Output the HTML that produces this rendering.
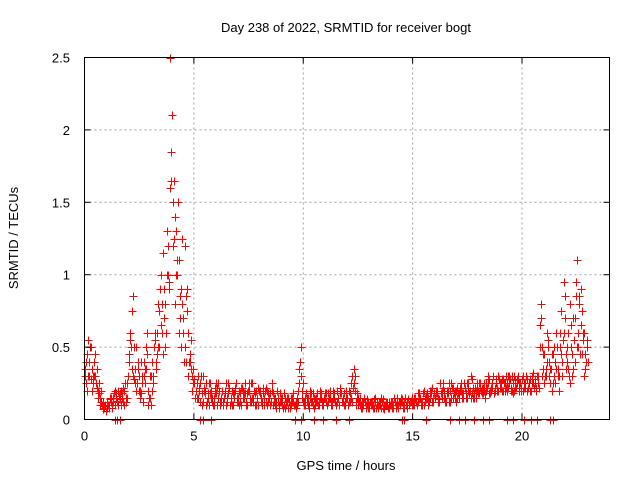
<!DOCTYPE html>
<html><head><meta charset="utf-8"><style>
body{margin:0;background:#fff}
svg text{font-family:"Liberation Sans",sans-serif;font-size:13px;fill:#000}
</style></head><body>
<svg id="chart" width="640" height="480" xmlns="http://www.w3.org/2000/svg">
<rect width="640" height="480" fill="#fff"/>
<g id="grid"></g>
<g id="marks"></g>
<rect x="84.5" y="57.5" width="525" height="362" fill="none" stroke="#000" stroke-width="1"/>
<g id="ticks"></g>
<text x="346" y="32" text-anchor="middle">Day 238 of 2022, SRMTID for receiver bogt</text>
<text x="346" y="470" text-anchor="middle">GPS time / hours</text>
<text x="18" y="238" text-anchor="middle" transform="rotate(-90 18 238)">SRMTID / TECUs</text>
</svg>
<script>
const xTicks=[0,5,10,15,20];
const yTicks=[0,0.5,1,1.5,2,2.5];
const yTickLabels=["0","0.5","1","1.5","2","2.5"];
const seriesA=[0.35,0.45,0.3,0.5,0.25,0.3,0.2,0.15,0.1,0.08,
0.06,0.1,0.12,0.15,0.1,0.13,0.18,0.15,0.2,0.12,
0.3,0.6,0.85,0.35,0.25,0.3,0.18,0.4,0.5,0.2,
0.15,0.4,0.55,0.6,0.75,1.0,0.45,0.8,1.2,2.5,
2.1,1.65,1.3,1.1,0.9,0.6,1.2,0.9,0.45,0.3,
0.28,0.2,0.15,0.25,0.3,0.18,0.12,0.1,0.2,0.15,
0.25,0.15,0.1,0.2,0.18,0.12,0.22,0.15,0.1,0.2,
0.12,0.18,0.22,0.15,0.1,0.2,0.25,0.12,0.18,0.15,
0.2,0.1,0.15,0.22,0.12,0.18,0.1,0.15,0.2,0.08,
0.12,0.18,0.1,0.15,0.08,0.12,0.1,0.15,0.35,0.5,
0.12,0.1,0.15,0.2,0.12,0.08,0.15,0.1,0.18,0.12,
0.15,0.1,0.2,0.12,0.18,0.1,0.15,0.22,0.12,0.1,
0.15,0.2,0.25,0.35,0.12,0.1,0.15,0.08,0.12,0.1,
0.08,0.12,0.1,0.15,0.08,0.1,0.12,0.07,0.1,0.12,
0.1,0.08,0.12,0.15,0.1,0.12,0.08,0.1,0.14,0.12,
0.12,0.15,0.1,0.18,0.12,0.2,0.14,0.1,0.15,0.22,
0.15,0.2,0.12,0.18,0.25,0.15,0.2,0.12,0.22,0.18,
0.2,0.15,0.25,0.18,0.22,0.15,0.2,0.28,0.18,0.15,
0.2,0.25,0.18,0.15,0.22,0.28,0.2,0.18,0.25,0.3,
0.22,0.28,0.2,0.25,0.3,0.22,0.18,0.27,0.3,0.25,
0.28,0.22,0.3,0.25,0.2,0.32,0.25,0.3,0.65,0.5,
0.45,0.3,0.55,0.35,0.25,0.4,0.5,0.3,0.75,0.95,
0.35,0.6,0.25,0.45,0.7,1.1,0.85,0.9,0.55,0.45,
0.4];
const seriesB=[0.25,0.3,0.5,0.2,0.4,0.35,0.25,0.2,0.12,0.1,
0.08,0.15,0.1,0.18,0.15,0.1,0.2,0.12,0.25,0.15,
0.45,0.75,0.5,0.2,0.35,0.15,0.3,0.25,0.45,0.15,
0.1,0.3,0.4,0.5,0.9,0.6,0.7,1.0,0.9,1.85,
1.5,1.4,1.0,0.7,0.8,0.4,0.85,0.6,0.35,0.25,
0.15,0.25,0.2,0.1,0.2,0.25,0.15,0.18,0.12,0.22,
0.1,0.2,0.15,0.12,0.25,0.18,0.1,0.2,0.15,0.12,
0.2,0.1,0.15,0.25,0.18,0.12,0.15,0.2,0.1,0.22,
0.12,0.18,0.2,0.1,0.15,0.25,0.12,0.08,0.15,0.12,
0.1,0.08,0.15,0.12,0.1,0.18,0.08,0.12,0.4,0.2,
0.1,0.15,0.08,0.12,0.18,0.1,0.12,0.2,0.1,0.15,
0.12,0.18,0.1,0.15,0.12,0.2,0.1,0.12,0.18,0.15,
0.1,0.12,0.3,0.2,0.15,0.12,0.08,0.12,0.1,0.08,
0.12,0.1,0.08,0.12,0.1,0.15,0.08,0.1,0.12,0.1,
0.12,0.15,0.1,0.08,0.12,0.1,0.15,0.12,0.1,0.15,
0.1,0.12,0.18,0.15,0.1,0.15,0.18,0.12,0.2,0.15,
0.18,0.12,0.25,0.15,0.2,0.18,0.12,0.25,0.15,0.2,
0.15,0.22,0.18,0.25,0.15,0.2,0.3,0.15,0.22,0.25,
0.18,0.22,0.25,0.2,0.3,0.18,0.25,0.22,0.2,0.28,
0.25,0.2,0.3,0.22,0.28,0.2,0.3,0.25,0.2,0.22,
0.3,0.25,0.2,0.28,0.3,0.22,0.2,0.25,0.8,0.35,
0.3,0.6,0.4,0.2,0.5,0.35,0.3,0.6,0.4,0.85,
0.5,0.3,0.65,0.35,0.95,0.6,0.45,0.75,0.3,0.55];
const seriesC=[0.4,0.55,0.28,0.3,0.45,0.22,0.18,0.12,0.09,0.06,
0.1,0.14,0.08,0.2,0.12,0.16,0.1,0.22,0.15,0.3,
0.55,0.35,0.28,0.5,0.2,0.4,0.12,0.35,0.6,0.3,
0.2,0.5,0.35,0.8,0.65,1.15,0.5,1.3,0.95,1.65,
1.25,1.0,1.5,0.85,1.25,0.5,0.75,0.4,0.55,0.35,
0.2,0.3,0.12,0.18,0.22,0.1,0.25,0.15,0.1,0.18,
0.22,0.12,0.2,0.15,0.1,0.25,0.12,0.18,0.22,0.15,
0.1,0.22,0.18,0.12,0.2,0.15,0.25,0.1,0.15,0.2,
0.15,0.22,0.12,0.18,0.1,0.2,0.15,0.12,0.1,0.15,
0.08,0.15,0.12,0.1,0.15,0.1,0.12,0.2,0.3,0.25,
0.15,0.12,0.1,0.18,0.15,0.12,0.1,0.15,0.12,0.18,
0.1,0.15,0.12,0.2,0.1,0.15,0.18,0.12,0.1,0.2,
0.12,0.15,0.22,0.3,0.18,0.1,0.12,0.15,0.08,0.12,
0.1,0.08,0.12,0.1,0.12,0.08,0.1,0.12,0.08,0.1,
0.08,0.12,0.1,0.12,0.15,0.08,0.1,0.14,0.12,0.1,
0.15,0.12,0.14,0.1,0.18,0.12,0.15,0.2,0.12,0.18,
0.2,0.15,0.18,0.22,0.12,0.2,0.25,0.15,0.18,0.12,
0.18,0.2,0.15,0.22,0.25,0.18,0.15,0.22,0.2,0.18,
0.22,0.18,0.2,0.25,0.18,0.22,0.3,0.2,0.22,0.25,
0.2,0.25,0.22,0.3,0.2,0.25,0.22,0.28,0.25,0.2,
0.25,0.3,0.22,0.2,0.25,0.28,0.3,0.22,0.7,0.45,
0.35,0.5,0.25,0.45,0.3,0.6,0.2,0.45,0.55,0.7,
0.4,0.8,0.3,0.55,0.85,0.5,0.65,0.6,0.35,0.5];
const seriesD=[0.3,0.2,0.4,0.35,0.3,0.25,0.15,0.1,0.07,0.1,
0.12,0.08,0.15,0.12,0.18,0.2,0.14,0.18,0.1,0.25,
0.4,0.5,0.3,0.25,0.4,0.2,0.25,0.3,0.35,0.1,
0.3,0.25,0.6,0.45,0.5,0.8,0.9,0.6,1.0,1.6,
1.2,0.8,1.1,0.6,0.5,0.7,0.4,0.3,0.4,0.2,
0.25,0.15,0.22,0.3,0.12,0.2,0.18,0.25,0.15,0.1,
0.18,0.25,0.12,0.1,0.2,0.15,0.22,0.1,0.18,0.25,
0.15,0.12,0.2,0.18,0.1,0.25,0.12,0.15,0.2,0.1,
0.18,0.12,0.1,0.2,0.15,0.12,0.18,0.1,0.12,0.18,
0.15,0.1,0.12,0.08,0.15,0.12,0.1,0.1,0.25,0.15,
0.12,0.18,0.1,0.15,0.1,0.14,0.18,0.12,0.15,0.1,
0.18,0.12,0.15,0.1,0.14,0.12,0.1,0.18,0.15,0.12,
0.1,0.18,0.12,0.25,0.1,0.15,0.1,0.1,0.12,0.14,
0.1,0.12,0.14,0.08,0.1,0.12,0.14,0.1,0.1,0.08,
0.12,0.1,0.08,0.1,0.12,0.14,0.12,0.08,0.1,0.13,
0.1,0.14,0.12,0.15,0.12,0.1,0.16,0.15,0.18,0.12,
0.15,0.18,0.14,0.2,0.15,0.12,0.18,0.2,0.22,0.15,
0.22,0.18,0.2,0.15,0.18,0.25,0.2,0.18,0.15,0.2,
0.25,0.2,0.22,0.18,0.25,0.2,0.22,0.18,0.28,0.2,
0.22,0.28,0.25,0.2,0.25,0.3,0.2,0.22,0.28,0.25,
0.2,0.22,0.28,0.25,0.2,0.25,0.22,0.3,0.5,0.3,
0.25,0.4,0.3,0.35,0.45,0.25,0.35,0.5,0.3,0.6,
0.45,0.35,0.5,0.7,0.4,0.5,0.8,0.45,0.6,0.4];
const zeroTimes=[1.4,1.5,1.6,5.3,5.4,5.8,9.6,9.9,10.5,10.9,11.5,12.1,14.5,14.6,15.6,16.7,17.1,17.4,17.8,18.2,18.5,19.3,19.6,20.1,20.4,20.7,21.3,21.4];
const stepT=0.1;

const X0=84.5,X1=609.5,Y0=419.5,Y1=57.5,XMAX=24,YMAX=2.5;
const xs=v=>X0+(X1-X0)*v/XMAX;
const ys=v=>Y0-(Y0-Y1)*v/YMAX;
const NS="http://www.w3.org/2000/svg";
const grid=document.getElementById('grid'),ticks=document.getElementById('ticks'),marks=document.getElementById('marks');
function line(p,x1,y1,x2,y2,st,dash){const l=document.createElementNS(NS,'line');l.setAttribute('x1',x1);l.setAttribute('y1',y1);l.setAttribute('x2',x2);l.setAttribute('y2',y2);l.setAttribute('stroke',st);if(dash)l.setAttribute('stroke-dasharray',dash);p.appendChild(l);return l;}
xTicks.forEach((t,i)=>{const x=xs(t);
 if(i>0){const g=line(grid,x,Y0,x,Y1,'#a0a0a0','2,3');
 
 }
 const a=line(ticks,x,Y0,x,Y0-6,'#000');
 
 
 const b=line(ticks,x,Y1,x,Y1+6,'#000');
 
 
 const tx=document.createElementNS(NS,'text');tx.setAttribute('x',x);tx.setAttribute('y',Y0+21);tx.setAttribute('text-anchor','middle');tx.textContent=String(t);
 
 
 ticks.appendChild(tx);});
yTicks.forEach((t,i)=>{const y=ys(t);
 if(i>0&&i<yTicks.length-1){const g=line(grid,X0,y,X1,y,'#a0a0a0','2,3');
 
 }
 const a=line(ticks,X0,y,X0+6,y,'#000');
 
 
 const b=line(ticks,X1,y,X1-6,y,'#000');
 
 
 const tx=document.createElementNS(NS,'text');tx.setAttribute('x',70);tx.setAttribute('y',y+5);tx.setAttribute('text-anchor','end');tx.textContent=yTickLabels[i];
 
 
 ticks.appendChild(tx);});
function plus(t,v,name){const x=Math.round(xs(t))+0.5,y=Math.round(ys(v))+0.5;
 const p=document.createElementNS(NS,'path');
 p.setAttribute('d',`M${x-4},${y}H${x+4}M${x},${y-4}V${y+4}`);
 p.setAttribute('stroke','#ff0000');p.setAttribute('stroke-width','1');p.setAttribute('fill','none');
 
 
 marks.appendChild(p);}
seriesA.forEach((v,i)=>plus(i*stepT,v,'point-a'));
seriesB.forEach((v,i)=>plus(0.05+i*stepT,v,'point-b'));
seriesC.forEach((v,i)=>plus(0.075+i*stepT,v,'point-c'));
seriesD.forEach((v,i)=>plus(0.025+i*stepT,v,'point-d'));
zeroTimes.forEach(t=>plus(t,0,'point-zero'));
</script>
</body></html>
